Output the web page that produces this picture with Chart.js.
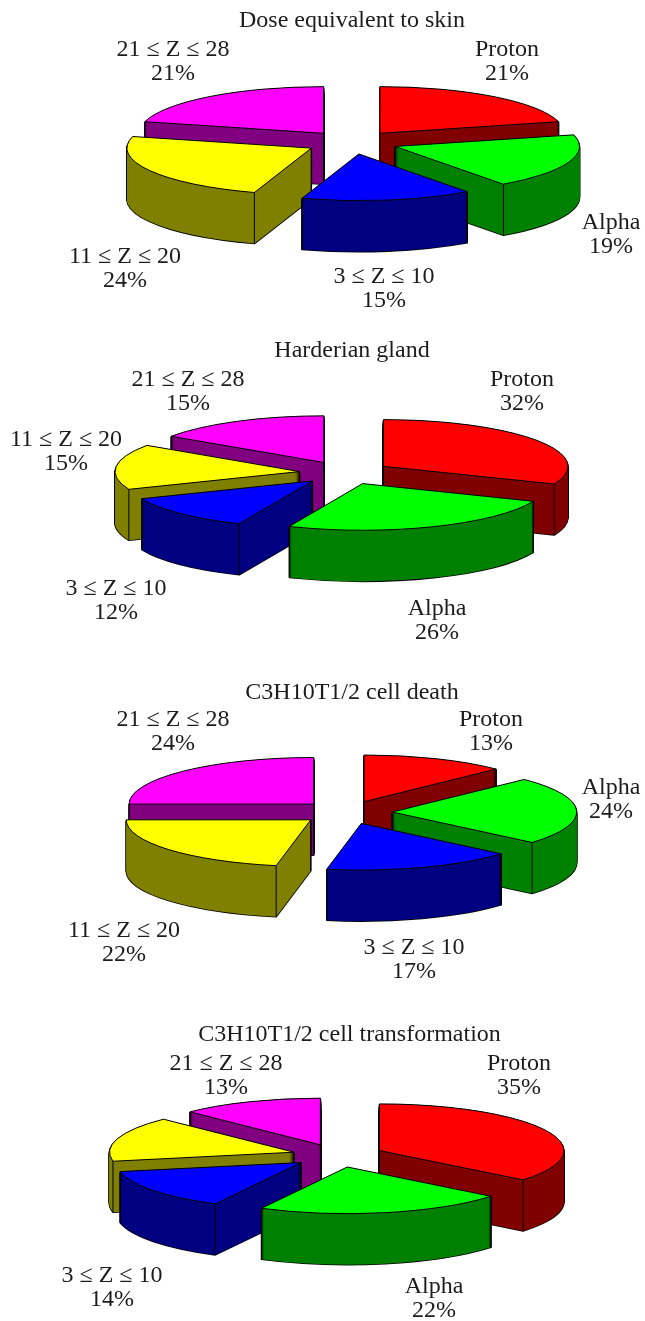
<!DOCTYPE html>
<html>
<head>
<meta charset="utf-8">
<script src="https://cdn.jsdelivr.net/npm/chart.js@4"></script>
<style>
  html, body { margin: 0; padding: 0; background: #fff; }
  #page { position: relative; width: 645px; height: 1321px; overflow: hidden; }
  canvas { position: absolute; left: 0; }
</style>
</head>
<body>
<div id="page"></div>
<script>
const groups = ["Proton", "Alpha", "3 \u2264 Z \u2264 10", "11 \u2264 Z \u2264 20", "21 \u2264 Z \u2264 28"];
const titles = ["Dose equivalent to skin", "Harderian gland", "C3H10T1/2 cell death", "C3H10T1/2 cell transformation"];
// slice sizes in percent, measured from the slice angles in the picture
// (the drawn slices are a bit off from the rounded labels printed next to them)
const doseSkin = [21, 19, 15, 24, 21];
const harderian = [31.2, 25.3, 12.3, 15.7, 15.5];
const cellDeath = [12.7, 23.6, 16.7, 22, 25];
const cellTransform = [35.8, 21.9, 14.2, 15.6, 12.5];
// percent labels as printed, the yellow slice of the last pie has none
const doseSkinText = ["21%", "19%", "15%", "24%", "21%"];
const harderianText = ["32%", "26%", "12%", "15%", "15%"];
const cellDeathText = ["13%", "24%", "17%", "22%", "24%"];
const cellTransformText = ["35%", "22%", "14%", null, "13%"];
const topColors = ["#ff0000", "#00ff00", "#0000ff", "#ffff00", "#ff00ff"];
const sideColors = ["#800000", "#008000", "#000080", "#808000", "#800080"];

// look of the fake 3d pies
const radius = 184.5;
const tiltRatio = 0.253;
const depth = 51;
const explode = 46;
const fontCss = '24px "Liberation Serif"';
const lineGap = 24;

// layout: pie centre, canvas box, title spot and label spots (x, first line y), all page pixels
const layouts = [
  { values: doseSkin, printed: doseSkinText, top: 0, h: 330, cx: 351.7, cy: 142.5, title: [352, 19],
    spots: [[507, 48], [611, 221], [384, 275], [125, 255], [173, 48]] },
  { values: harderian, printed: harderianText, top: 330, h: 330, cx: 345.3, cy: 472.8, title: [352, 349],
    spots: [[522, 378], [437, 607], [116, 587], [66, 438], [188, 378]] },
  { values: cellDeath, printed: cellDeathText, top: 660, h: 330, cx: 346.2, cy: 812.4, title: [352, 691],
    spots: [[491, 718], [611, 786], [414, 946], [124, 929], [173, 718]] },
  { values: cellTransform, printed: cellTransformText, top: 990, h: 331, cx: 338, cy: 1155.6, title: [349.5, 1033],
    spots: [[519, 1062], [434, 1285], [112, 1274], null, [226, 1062]] }
];

function tilt(ctx, arc) {
  ctx.translate(arc.x, arc.y);
  ctx.scale(1, tiltRatio);
  ctx.translate(-arc.x, -arc.y);
}

function midAngle(arc) {
  return (arc.startAngle + arc.endAngle) / 2;
}

// move a slice out along its middle angle, inside the tilted space
function pushOut(ctx, arc) {
  const mid = midAngle(arc);
  ctx.translate(Math.cos(mid) * explode, Math.sin(mid) * explode);
}

function fillArc(ctx, arc, color, drop) {
  const saved = arc.options;
  arc.options = { backgroundColor: color, borderColor: color, borderWidth: 0, borderAlign: "center",
    borderJoinStyle: "round", borderRadius: 0, borderDash: [], borderDashOffset: 0,
    offset: 0, spacing: 0, circular: true, angle: undefined };
  ctx.save();
  ctx.translate(0, drop);
  tilt(ctx, arc);
  pushOut(ctx, arc);
  arc.draw(ctx);
  ctx.restore();
  arc.options = saved;
}

// stroke in screen space so the line keeps one width in spite of the tilt
function strokeArc(ctx, arc, drop, width) {
  ctx.save();
  ctx.translate(0, drop);
  ctx.save();
  tilt(ctx, arc);
  pushOut(ctx, arc);
  ctx.beginPath();
  ctx.moveTo(arc.x, arc.y);
  ctx.arc(arc.x, arc.y, arc.outerRadius, arc.startAngle, arc.endAngle);
  ctx.closePath();
  ctx.restore();
  ctx.lineWidth = width;
  ctx.lineJoin = "round";
  ctx.strokeStyle = "#000";
  ctx.stroke();
  ctx.restore();
}

function insideSlice(arc, x, y) {
  if (Math.hypot(x, y) >= arc.outerRadius) return false;
  const span = arc.endAngle - arc.startAngle;
  const a = Math.atan2(y, x) - arc.startAngle;
  const norm = ((a % (2 * Math.PI)) + 2 * Math.PI) % (2 * Math.PI);
  return norm < span;
}

// vertical edges at the apex and the two rim corners, only where they face us
function drawEdges(ctx, arc) {
  const mid = midAngle(arc);
  const ox = Math.cos(mid) * explode;
  const oy = Math.sin(mid) * explode;
  const R = arc.outerRadius;
  const corners = [[0, 0],
    [Math.cos(arc.startAngle) * R, Math.sin(arc.startAngle) * R],
    [Math.cos(arc.endAngle) * R, Math.sin(arc.endAngle) * R]];
  ctx.save();
  ctx.strokeStyle = "#000";
  ctx.lineWidth = 1;
  corners.forEach(function (c, i) {
    const probeX = i === 0 ? c[0] : c[0] * 0.999;
    const probeY = (i === 0 ? c[1] : c[1] * 0.999) + 1.5 / tiltRatio;
    if (insideSlice(arc, probeX, probeY)) return;
    const sx = arc.x + ox + c[0];
    const sy = arc.y + (oy + c[1]) * tiltRatio;
    ctx.beginPath();
    ctx.moveTo(sx, sy);
    ctx.lineTo(sx, sy + depth);
    ctx.stroke();
  });
  ctx.restore();
}

const pie3d = {
  id: "pie3d",
  beforeDatasetDraw(chart) {
    const ctx = chart.ctx;
    const arcs = chart.getDatasetMeta(0).data.map(function (arc, i) { return { arc: arc, i: i }; });
    // back slices first
    arcs.sort(function (a, b) { return Math.sin(midAngle(a.arc)) - Math.sin(midAngle(b.arc)); });
    arcs.forEach(function (item) {
      const arc = item.arc;
      for (let d = depth; d >= 1; d--) strokeArc(ctx, arc, d, 1.6);
      for (let d = depth; d >= 1; d--) fillArc(ctx, arc, sideColors[item.i], d);
      drawEdges(ctx, arc);
      fillArc(ctx, arc, topColors[item.i], 0);
      strokeArc(ctx, arc, 0, 1);
    });
    return false;
  },
  afterDraw(chart, args, opts) {
    const ctx = chart.ctx;
    const lay = opts.layout;
    ctx.save();
    ctx.font = fontCss;
    ctx.fillStyle = "#1c1c1c";
    ctx.textAlign = "center";
    ctx.textBaseline = "middle";
    const y0 = 1.5 - lay.top;
    ctx.fillText(opts.title, lay.title[0], lay.title[1] + y0);
    lay.spots.forEach(function (spot, i) {
      if (!spot) return;
      ctx.fillText(groups[i], spot[0], spot[1] + y0);
      ctx.fillText(lay.printed[i], spot[0], spot[1] + y0 + lineGap);
    });
    ctx.restore();
  }
};

const page = document.getElementById("page");
layouts.forEach(function (lay, n) {
  const canvas = document.createElement("canvas");
  canvas.style.top = lay.top + "px";
  canvas.style.width = "645px";
  canvas.style.height = lay.h + "px";
  canvas.width = 645;
  canvas.height = lay.h;
  page.appendChild(canvas);
  const midY = lay.cy - lay.top;
  new Chart(canvas, {
    type: "pie",
    plugins: [pie3d],
    data: {
      labels: groups,
      datasets: [{ data: lay.values, backgroundColor: topColors, borderWidth: 0, radius: radius }]
    },
    options: {
      responsive: false,
      animation: false,
      layout: { padding: {
        left: Math.max(2 * lay.cx - 645, 0),
        right: Math.max(645 - 2 * lay.cx, 0),
        top: Math.max(2 * midY - lay.h, 0),
        bottom: Math.max(lay.h - 2 * midY, 0)
      } },
      plugins: {
        legend: { display: false },
        tooltip: { enabled: false },
        pie3d: { title: titles[n], layout: lay }
      }
    }
  });
});
</script>
</body>
</html>
